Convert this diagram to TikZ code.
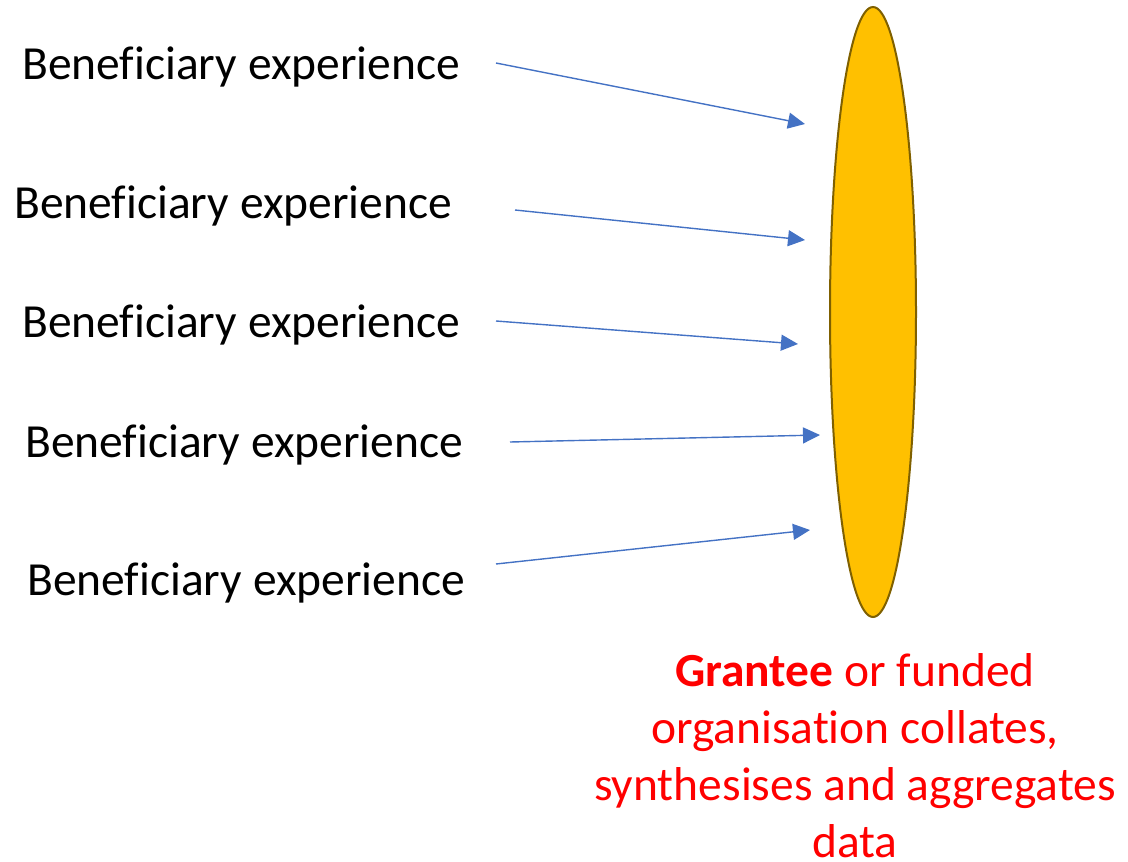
\documentclass[tikz,border=0pt]{standalone}
\usepackage{fontspec}
\setmainfont{Carlito}[Ligatures=NoCommon]
\usetikzlibrary{shapes.geometric,arrows.meta}
\definecolor{arrowblue}{HTML}{4472C4}
\definecolor{lensfill}{HTML}{FFC000}
\definecolor{lensline}{HTML}{7F6000}
\definecolor{notered}{HTML}{FF0000}
\begin{document}
\begin{tikzpicture}[x=1pt,y=-1pt,
  bentext/.style={anchor=base west,inner sep=0pt,font=\fontsize{47.5}{57}\selectfont},
  feed/.style={draw=arrowblue,line width=1.4pt,-{Triangle[length=17pt,width=16pt]}},
  lens/.style={ellipse,draw=lensline,fill=lensfill,line width=2pt,inner sep=0pt,
    minimum width=86pt,minimum height=610pt},
  caption/.style={anchor=base,align=center,inner sep=0pt,text=notered,
    font=\fontsize{47.5}{57}\selectfont}]
\useasboundingbox (0,0) rectangle (1128,862);

% collating organisation
\node[lens] (org) at (873,312) {};

% individual experiences
\node[bentext] (b1) at (22,79) {Beneficiary experience};
\node[bentext] (b2) at (14,218) {Beneficiary experience};
\node[bentext] (b3) at (22,337) {Beneficiary experience};
\node[bentext] (b4) at (25,457) {Beneficiary experience};
\node[bentext] (b5) at (27,595) {Beneficiary experience};

% arrow ends
\coordinate (s1) at (496,63);  \coordinate (e1) at (805,124);
\coordinate (s2) at (515,210); \coordinate (e2) at (805,240);
\coordinate (s3) at (496,321); \coordinate (e3) at (798,344);
\coordinate (s4) at (510,442); \coordinate (e4) at (820,435);
\coordinate (s5) at (496,564); \coordinate (e5) at (810,530);

\foreach \i in {1,...,5} \draw[feed] (s\i) -- (e\i);

% caption: base anchor sits on the last line
\node[caption] (cap) at (855,857) {\textbf{Grantee} or funded\\organisation collates,\\synthesises and aggregates\\data};
\end{tikzpicture}
\end{document}
